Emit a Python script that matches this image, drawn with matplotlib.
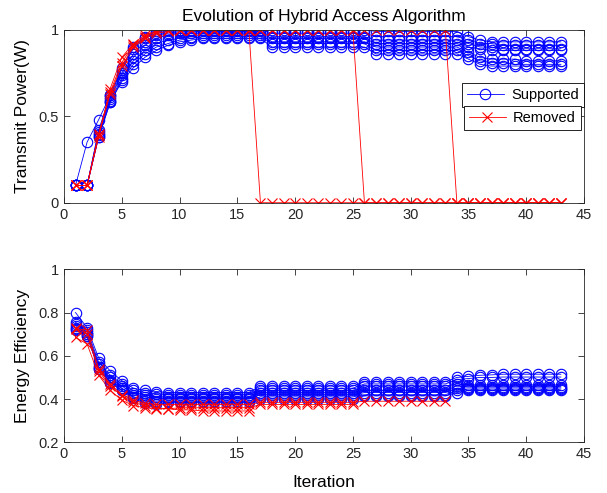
#!/usr/bin/env python3

"""
Power and energy efficiency per iteration of the hybrid access algorithm
"""

import numpy as np
import matplotlib.pyplot as plt
from matplotlib import ticker
from matplotlib.lines import Line2D

nan = np.nan
iterations = list(range(1, 44))

# transmit power of the users that stay supported
power_sup_1 = [0.10, 0.35, 0.48, 0.62, 0.78, 0.90, 0.96, 0.99, 1.00, 1.00,
               1.00, 1.00, 1.00, 1.00, 1.00, 1.00, 1.00,
               1.00, 1.00, 1.00, 1.00, 1.00, 1.00, 1.00, 1.00, 1.00,
               0.99, 0.99, 0.99, 0.99, 0.99, 0.99, 0.99, 0.99,
               0.96, 0.94, 0.93, 0.93, 0.93, 0.93, 0.93, 0.93, 0.93]
power_sup_2 = [0.10, 0.10, 0.42, 0.62, 0.77, 0.89, 0.95, 0.98, 0.99, 1.00,
               1.00, 1.00, 1.00, 1.00, 1.00, 1.00, 1.00,
               0.98, 0.98, 0.98, 0.98, 0.98, 0.98, 0.98, 0.98, 0.98,
               0.96, 0.96, 0.96, 0.96, 0.96, 0.96, 0.96, 0.96,
               0.94, 0.92, 0.92, 0.91, 0.91, 0.91, 0.91, 0.91, 0.91]
power_sup_3 = [0.10, 0.10, 0.41, 0.61, 0.75, 0.86, 0.93, 0.97, 0.98, 0.99,
               0.99, 0.99, 0.99, 0.99, 0.99, 0.99, 0.99,
               0.96, 0.96, 0.96, 0.96, 0.96, 0.96, 0.96, 0.96, 0.96,
               0.94, 0.94, 0.94, 0.94, 0.94, 0.94, 0.94, 0.94,
               0.92, 0.90, 0.90, 0.89, 0.89, 0.89, 0.89, 0.89, 0.89]
power_sup_4 = [0.10, 0.10, 0.40, 0.60, 0.74, 0.84, 0.91, 0.95, 0.97, 0.98,
               0.98, 0.98, 0.98, 0.98, 0.98, 0.98, 0.98,
               0.95, 0.95, 0.95, 0.95, 0.95, 0.95, 0.95, 0.95, 0.95,
               0.92, 0.92, 0.92, 0.92, 0.92, 0.92, 0.92, 0.92,
               0.90, 0.89, 0.88, 0.88, 0.88, 0.88, 0.88, 0.88, 0.88]
power_sup_5 = [0.10, 0.10, 0.39, 0.59, 0.72, 0.82, 0.88, 0.92, 0.94, 0.95,
               0.96, 0.97, 0.97, 0.97, 0.97, 0.97, 0.97,
               0.93, 0.93, 0.93, 0.93, 0.93, 0.93, 0.93, 0.93, 0.93,
               0.90, 0.90, 0.90, 0.90, 0.90, 0.90, 0.90, 0.90,
               0.87, 0.84, 0.83, 0.83, 0.83, 0.82, 0.82, 0.82, 0.82]
power_sup_6 = [0.10, 0.10, 0.38, 0.58, 0.71, 0.80, 0.86, 0.90, 0.92, 0.94,
               0.95, 0.96, 0.96, 0.96, 0.96, 0.96, 0.96,
               0.92, 0.92, 0.92, 0.92, 0.92, 0.92, 0.92, 0.92, 0.92,
               0.88, 0.88, 0.88, 0.88, 0.88, 0.88, 0.88, 0.88,
               0.85, 0.82, 0.81, 0.81, 0.80, 0.80, 0.80, 0.80, 0.80]
power_sup_7 = [0.10, 0.10, 0.38, 0.58, 0.70, 0.78, 0.84, 0.88, 0.91, 0.93,
               0.94, 0.95, 0.95, 0.95, 0.95, 0.95, 0.95,
               0.90, 0.90, 0.90, 0.90, 0.90, 0.90, 0.90, 0.90, 0.90,
               0.86, 0.86, 0.86, 0.86, 0.86, 0.86, 0.86, 0.86,
               0.83, 0.80, 0.79, 0.79, 0.79, 0.79, 0.79, 0.79, 0.79]

# transmit power of the users that get removed (power 0 afterwards)
power_rem_1 = [0.10, 0.10, 0.38, 0.66, 0.84, 0.92, 0.97, 0.99, 1.00, 1.00,
               1.00, 1.00, 1.00, 1.00, 1.00, 1.00,
               0, 0, 0, 0, 0, 0, 0, 0, 0, 0, 0, 0, 0, 0,
               0, 0, 0, 0, 0, 0, 0, 0, 0, 0, 0, 0, 0]
power_rem_2 = [0.10, 0.10, 0.40, 0.64, 0.81, 0.91, 0.96, 0.99, 1.00, 1.00,
               1.00, 1.00, 1.00, 1.00, 1.00, 1.00, 1.00, 1.00, 1.00, 1.00,
               1.00, 1.00, 1.00, 1.00, 1.00,
               0, 0, 0, 0, 0, 0, 0, 0, 0, 0, 0, 0, 0, 0, 0, 0, 0, 0]
power_rem_3 = [0.10, 0.10, 0.39, 0.63, 0.79, 0.90, 0.95, 0.98, 0.99, 1.00,
               1.00, 1.00, 1.00, 1.00, 1.00, 1.00, 1.00, 1.00, 1.00, 1.00,
               1.00, 1.00, 1.00, 1.00, 1.00, 1.00, 1.00, 1.00, 1.00, 1.00,
               1.00, 1.00, 1.00,
               0, 0, 0, 0, 0, 0, 0, 0, 0, 0]

# energy efficiency of supported users
ee_sup_1 = [0.800, 0.730, 0.590, 0.530, 0.485, 0.450, 0.440, 0.435,
            0.430, 0.430, 0.430, 0.430, 0.430, 0.430, 0.430, 0.430,
            0.460, 0.460, 0.460, 0.460, 0.460, 0.460, 0.460, 0.460, 0.460,
            0.480, 0.480, 0.480, 0.480, 0.480, 0.480, 0.480, 0.480,
            0.500,
            0.505, 0.510, 0.512, 0.515, 0.515, 0.515, 0.515, 0.515, 0.515]
ee_sup_2 = [0.755, 0.720, 0.570, 0.510, 0.470, 0.440, 0.430, 0.425,
            0.420, 0.420, 0.420, 0.420, 0.420, 0.420, 0.420, 0.420,
            0.450, 0.450, 0.450, 0.450, 0.450, 0.450, 0.450, 0.450, 0.450,
            0.470, 0.470, 0.470, 0.470, 0.470, 0.470, 0.470, 0.470,
            0.490,
            0.495, 0.500, 0.500, 0.502, 0.502, 0.502, 0.502, 0.502, 0.502]
ee_sup_3 = [0.745, 0.710, 0.560, 0.500, 0.460, 0.430, 0.420, 0.410,
            0.410, 0.410, 0.410, 0.410, 0.410, 0.410, 0.410, 0.410,
            0.440, 0.440, 0.440, 0.440, 0.440, 0.440, 0.440, 0.440, 0.440,
            0.460, 0.460, 0.460, 0.460, 0.460, 0.460, 0.460, 0.460,
            0.470,
            0.465, 0.465, 0.465, 0.465, 0.465, 0.465, 0.465, 0.465, 0.465]
ee_sup_4 = [0.740, 0.700, 0.550, 0.490, 0.450, 0.420, 0.410, 0.400,
            0.405, 0.405, 0.405, 0.405, 0.405, 0.405, 0.405, 0.405,
            0.430, 0.430, 0.430, 0.430, 0.430, 0.430, 0.430, 0.430, 0.430,
            0.440, 0.440, 0.440, 0.440, 0.440, 0.440, 0.440, 0.440,
            0.460,
            0.458, 0.458, 0.458, 0.458, 0.458, 0.458, 0.458, 0.458, 0.458]
ee_sup_5 = [0.730, 0.700, 0.550, 0.480, 0.450, 0.410, 0.400, 0.390,
            0.400, 0.400, 0.400, 0.400, 0.400, 0.400, 0.400, 0.400,
            0.420, 0.420, 0.420, 0.420, 0.420, 0.420, 0.420, 0.420, 0.420,
            0.430, 0.430, 0.430, 0.430, 0.430, 0.430, 0.430, 0.430,
            0.450,
            0.452, 0.452, 0.452, 0.452, 0.452, 0.452, 0.452, 0.452, 0.452]
ee_sup_6 = [0.725, 0.690, 0.540, 0.480, 0.440, 0.410, 0.390, 0.385,
            0.390, 0.390, 0.390, 0.390, 0.390, 0.390, 0.390, 0.390,
            0.410, 0.410, 0.410, 0.410, 0.410, 0.410, 0.410, 0.410, 0.410,
            0.420, 0.420, 0.420, 0.420, 0.420, 0.420, 0.420, 0.420,
            0.440,
            0.446, 0.446, 0.446, 0.446, 0.446, 0.446, 0.446, 0.446, 0.446]
ee_sup_7 = [0.720, 0.690, 0.540, 0.475, 0.440, 0.405, 0.380, 0.375,
            0.385, 0.385, 0.385, 0.385, 0.385, 0.385, 0.385, 0.385,
            0.400, 0.400, 0.400, 0.400, 0.400, 0.400, 0.400, 0.400, 0.400,
            0.415, 0.415, 0.415, 0.415, 0.415, 0.415, 0.415, 0.415,
            0.430,
            0.440, 0.440, 0.440, 0.440, 0.440, 0.440, 0.440, 0.440, 0.440]

# energy efficiency of removed users, only until their removal
ee_rem_1 = [0.730, 0.700, 0.530, 0.460, 0.415, 0.385, 0.370, 0.360,
            0.355, 0.350, 0.350, 0.345, 0.345, 0.345, 0.345, 0.345,
            nan, nan, nan, nan, nan, nan, nan, nan, nan, nan, nan, nan, nan,
            nan, nan, nan, nan, nan, nan, nan, nan, nan, nan, nan, nan, nan, nan]
ee_rem_2 = [0.685, 0.655, 0.510, 0.440, 0.395, 0.370, 0.360, 0.355, 0.355,
            0.360, 0.360, 0.360, 0.360, 0.360, 0.360, 0.360,
            0.375, 0.375, 0.375, 0.375, 0.375, 0.375, 0.375, 0.375, 0.375,
            nan, nan, nan, nan, nan, nan, nan, nan, nan,
            nan, nan, nan, nan, nan, nan, nan, nan, nan]
ee_rem_3 = [0.725, 0.720, 0.540, 0.470, 0.420, 0.395, 0.380, 0.375, 0.375,
            0.375, 0.375, 0.375, 0.375, 0.375, 0.375, 0.375,
            0.385, 0.385, 0.385, 0.385, 0.385, 0.385, 0.385, 0.385, 0.385,
            0.390, 0.390, 0.390, 0.390, 0.390, 0.390, 0.390, 0.390,
            nan, nan, nan, nan, nan, nan, nan, nan, nan, nan]

power_supported = [power_sup_1, power_sup_2, power_sup_3, power_sup_4,
                   power_sup_5, power_sup_6, power_sup_7]
power_removed = [power_rem_1, power_rem_2, power_rem_3]
ee_supported = [ee_sup_1, ee_sup_2, ee_sup_3, ee_sup_4, ee_sup_5, ee_sup_6, ee_sup_7]
ee_removed = [ee_rem_1, ee_rem_2, ee_rem_3]

BLUE = (0, 0, 1)
RED = (1, 0, 0)
AXC = '#262626'
MS = 7.5

plt.rcParams['font.family'] = ['Liberation Sans', 'DejaVu Sans']
plt.rcParams['font.size'] = 10.5


def style_axes(ax):
    """
    matlab-like box with inward ticks on all sides
    """
    for s in ax.spines.values():
        s.set_color(AXC)
        s.set_linewidth(0.6)
    ax.tick_params(direction='in', top=True, right=True, length=4,
                   width=0.6, color=AXC, labelcolor=AXC, labelsize=10.5)
    ax.set_xlim(0, 45)
    ax.set_xticks(range(0, 46, 5))
    ax.yaxis.set_major_formatter(ticker.FormatStrFormatter('%g'))


def draw(ax, sup, rem):
    for y in sup:
        ax.plot(iterations, y, '-o', color=BLUE, mfc='none', ms=MS, lw=0.6, mew=0.8)
    for y in rem:
        ax.plot(iterations, y, '-x', color=RED, ms=MS, lw=0.6, mew=0.8)


def main():
    fig = plt.figure(figsize=(6.07, 4.93), dpi=100)
    ax1 = fig.add_axes([0.1054, 0.5888, 0.8567, 0.3509])
    ax2 = fig.add_axes([0.1054, 0.1028, 0.8567, 0.3509])

    draw(ax1, power_supported, power_removed)
    draw(ax2, ee_supported, ee_removed)

    style_axes(ax1)
    ax1.set_ylim(0, 1)
    ax1.set_yticks([0, 0.5, 1])
    ax1.set_ylabel('Tramsmit Power(W)', fontsize=12.5, labelpad=6.5)
    ax1.set_title('Evolution of Hybrid Access Algorithm', fontsize=12.5, pad=6)

    style_axes(ax2)
    ax2.set_ylim(0.2, 1)
    ax2.set_yticks([0.2, 0.4, 0.6, 0.8, 1])
    ax2.set_ylabel('Energy Efficiency', fontsize=12.5, labelpad=6.5)
    ax2.set_xlabel('Iteration', fontsize=12.5, labelpad=10)

    # two separate legend boxes
    h_sup = Line2D([], [], color=BLUE, marker='o', mfc='none', ms=MS, lw=0.6, mew=0.8)
    h_rem = Line2D([], [], color=RED, marker='x', ms=MS, lw=0.6, mew=0.8)
    opts = dict(loc='upper left', bbox_transform=fig.transFigure, fancybox=False,
                edgecolor='k', framealpha=1, borderaxespad=0, handlelength=2.5,
                borderpad=0.35, handletextpad=0.5, fontsize=10.5)
    leg1 = ax1.legend([h_sup], ['Supported'], bbox_to_anchor=(462 / 607, 1 - 83 / 493), **opts)
    leg1.get_frame().set_linewidth(0.6)
    ax1.add_artist(leg1)
    leg2 = ax1.legend([h_rem], ['Removed'], bbox_to_anchor=(464 / 607, 1 - 106 / 493), **opts)
    leg2.get_frame().set_linewidth(0.6)

    fig.savefig('out.png', dpi=100)


if __name__ == '__main__':
    main()
